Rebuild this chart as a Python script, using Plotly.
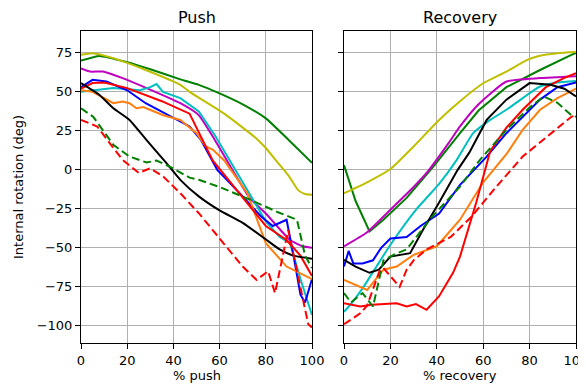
import plotly.graph_objects as go

# ---------------- Push panel data ----------------
push_green_x = [0, 8, 20, 30, 43, 51, 60, 70, 80, 90, 100]
push_green_y = [70, 73, 69, 64.5, 58, 54.5, 49, 42, 33, 19, 4.5]

push_yellow_x = [0, 5, 14, 28, 43, 47, 62, 76, 80, 85, 90, 94, 97, 100]
push_yellow_y = [73.7, 74.8, 71.6, 64, 54.5, 50, 36, 20, 14, 5, -4, -13, -15.5, -16]

push_magenta_x = [0, 4, 9.5, 18, 28.4, 43, 51, 58, 73, 80, 90.5, 96, 100]
push_magenta_y = [65, 63, 63, 58.8, 52.4, 42.7, 35, 19, -18, -28, -45, -49, -50]

push_cyan_x = [0, 14, 25.5, 30, 32.7, 35.5, 43, 51, 58, 70, 80, 86, 90.5, 95, 100]
push_cyan_y = [50, 52.4, 51, 53, 55, 50, 46, 37.4, 22, -8, -33, -43, -47, -70, -93]

push_blue_x = [0, 5, 11, 20, 28, 40, 47, 52, 59, 70, 78, 83, 89, 92, 95, 97, 100]
push_blue_y = [53, 57.7, 56.6, 51, 42.7, 33, 27.8, 19, 0, -17, -30, -36, -32, -55, -80, -85, -70]

push_orange_x = [0, 5, 14, 18, 21, 24, 27, 35.6, 43, 50, 54, 57, 62, 72, 80, 89, 100]
push_orange_y = [51, 50, 42.7, 43.8, 42.7, 39.5, 40.3, 35, 32, 23.5, 15, 13, 6, -15, -47, -62, -70]

push_red_x = [0, 5, 10, 20, 35, 47, 57, 72, 80, 89, 95, 100]
push_red_y = [52, 55.6, 56, 52.4, 44, 36, 6, -21, -36, -45, -55, -68]

push_black_x = [0, 8, 14, 21, 28.4, 37, 43, 51, 60, 70, 80, 86, 92, 100]
push_black_y = [55.6, 48, 39.5, 32, 19, 4.3, -6.4, -17, -26, -34, -44.6, -51, -55, -57]

push_gdash_x = [0, 5.3, 14, 21, 28.4, 32.7, 38.5, 43, 47, 51, 60, 73, 85, 93.5, 97, 100]
push_gdash_y = [39.5, 34, 16, 8.5, 4.7, 6, 2, -2, -5, -6.4, -11, -19, -27, -32, -55, -63]

push_rdash_x = [0, 7, 12.5, 18, 25, 30, 35.6, 43, 51, 61.6, 70, 76, 81, 84, 89.7, 98.4, 100]
push_rdash_y = [32, 27.8, 17, 6.4, -2, 1, -4.3, -15, -27.8, -47, -62, -70.5, -65, -79, -38.5, -99, -101]

# ---------------- Recovery panel data ----------------
rec_green_x = [0, 5, 11, 17, 27, 38.5, 50, 58, 70, 84.5, 98, 100]
rec_green_y = [3, -20, -39.5, -32, -18, 2, 23.5, 38, 53, 64, 73.7, 75]

rec_yellow_x = [0, 10, 20, 30, 41, 50, 60, 70, 79, 84, 92, 100]
rec_yellow_y = [-15, -8, 0.5, 15, 32, 44, 55.5, 63, 70.5, 73, 74.8, 75.5]

rec_magenta_x = [0, 10, 20, 30, 35.6, 45, 50, 58, 70, 84.5, 100]
rec_magenta_y = [-49, -40, -25.6, -11, -2, 17, 27.8, 42, 56.6, 58.8, 60]

rec_cyan_x = [0, 3, 8, 14, 20, 31, 41, 48.6, 55.7, 63, 70, 77, 84.5, 92, 100]
rec_cyan_y = [-91, -86, -76, -62, -48, -25.6, -9, 6.4, 23.5, 32, 38.5, 46, 53.4, 56, 57]

rec_blue_x = [0, 2, 4, 8, 12.5, 16, 20, 27, 33, 41, 50, 61.5, 70, 84.5, 92, 100]
rec_blue_y = [-62, -52, -60, -60, -58, -50, -44, -43, -36, -28, -9.6, 8.5, 23.5, 45, 53, 56]

rec_orange_x = [0, 10, 17, 22.7, 30, 40, 50, 60, 70, 77, 84.5, 92, 100]
rec_orange_y = [-70.5, -77, -64, -62, -54.5, -49, -32, -8, 10, 25.6, 38.5, 46, 52]

rec_red_x = [0, 7, 12, 17, 22.7, 27, 31, 35.6, 41, 47, 50, 57, 63, 70, 77, 87, 95, 100]
rec_red_y = [-85.5, -87.6, -86.5, -86, -85.5, -87.6, -86, -89.7, -81, -66, -55.6, -21, 12, 27, 38.5, 53, 59, 62]

rec_black_x = [0, 5, 11, 15, 20, 28.5, 34, 41, 49, 54, 61.5, 70, 80, 89, 95, 100]
rec_black_y = [-57.7, -62, -66, -64, -55.6, -53.4, -38.5, -21, 0, 11, 32, 45, 55.6, 54.5, 52, 47]

rec_gdash_x = [0, 3, 8, 12.5, 17, 22, 27, 38, 50, 58.6, 70, 80, 86, 92, 98, 100]
rec_gdash_y = [-79, -85, -79, -87.6, -58, -54, -51, -30, -10.7, 6.4, 25.6, 40, 47, 43, 35, 34]

rec_rdash_x = [0, 7, 10, 13, 15.5, 17, 21, 24, 27, 30, 35.6, 46, 55, 65, 77, 88, 98, 100]
rec_rdash_y = [-99, -92, -87, -75, -64, -63, -70, -75, -64, -58, -51, -43, -30, -12, 8.5, 22, 34, 35]

x_ticks = [0, 20, 40, 60, 80, 100]
y_ticks = [-100, -75, -50, -25, 0, 25, 50, 75]

C_G = "#008000"
C_Y = "#bfbf00"
C_M = "#bf00bf"
C_C = "#00bfbf"
C_B = "#0000ff"
C_O = "#ff7f0e"
C_R = "#ff0000"
C_K = "#000000"
DASH = "8px,4px"

push_series = [
    (push_green_x, push_green_y, C_G, "solid", "spline"),
    (push_yellow_x, push_yellow_y, C_Y, "solid", "spline"),
    (push_magenta_x, push_magenta_y, C_M, "solid", "spline"),
    (push_cyan_x, push_cyan_y, C_C, "solid", "linear"),
    (push_blue_x, push_blue_y, C_B, "solid", "linear"),
    (push_orange_x, push_orange_y, C_O, "solid", "linear"),
    (push_red_x, push_red_y, C_R, "solid", "linear"),
    (push_black_x, push_black_y, C_K, "solid", "spline"),
    (push_gdash_x, push_gdash_y, C_G, DASH, "linear"),
    (push_rdash_x, push_rdash_y, C_R, DASH, "linear"),
]
rec_series = [
    (rec_green_x, rec_green_y, C_G, "solid", "linear"),
    (rec_yellow_x, rec_yellow_y, C_Y, "solid", "spline"),
    (rec_magenta_x, rec_magenta_y, C_M, "solid", "spline"),
    (rec_cyan_x, rec_cyan_y, C_C, "solid", "spline"),
    (rec_blue_x, rec_blue_y, C_B, "solid", "linear"),
    (rec_orange_x, rec_orange_y, C_O, "solid", "linear"),
    (rec_red_x, rec_red_y, C_R, "solid", "linear"),
    (rec_black_x, rec_black_y, C_K, "solid", "linear"),
    (rec_gdash_x, rec_gdash_y, C_G, DASH, "linear"),
    (rec_rdash_x, rec_rdash_y, C_R, DASH, "linear"),
]

fig = go.Figure()
for xs, ys, col, dash, shp in push_series:
    fig.add_trace(go.Scatter(x=xs, y=ys, mode="lines", xaxis="x", yaxis="y",
                             line=dict(color=col, width=2, dash=dash, shape=shp, smoothing=0.5),
                             showlegend=False, hoverinfo="skip"))
for xs, ys, col, dash, shp in rec_series:
    fig.add_trace(go.Scatter(x=xs, y=ys, mode="lines", xaxis="x2", yaxis="y2",
                             line=dict(color=col, width=2, dash=dash, shape=shp, smoothing=0.5),
                             showlegend=False, hoverinfo="skip"))

# page body has an 8px margin; figure occupies 8..586 x 8..386
OFF = 8
W, H = 586 - OFF, 386 - OFF
FONT = "DejaVu Sans"
ax_common = dict(showline=True, linecolor="black", linewidth=1, mirror=True,
                 ticks="outside", ticklen=5, tickwidth=1, tickcolor="black",
                 showgrid=True, gridcolor="#b0b0b0", gridwidth=1,
                 zeroline=False, automargin=False, ticklabeloverflow="allow",
                 tickfont=dict(family=FONT, size=13, color="black"))


def px(v):
    return (v - OFF) / W


def py(v):
    return 1 - (v - OFF) / H


ydom = [py(343), py(31)]
fig.update_layout(
    width=W, height=H,
    margin=dict(l=0, r=0, t=0, b=0, pad=0),
    paper_bgcolor="white", plot_bgcolor="white",
    xaxis=dict(domain=[px(81), px(312)], range=[0, 100], tickvals=x_ticks, anchor="y", **ax_common),
    xaxis2=dict(domain=[px(344), px(576)], range=[0, 100], tickvals=x_ticks, anchor="y2", **ax_common),
    yaxis=dict(domain=ydom, range=[-111, 89], tickvals=y_ticks, anchor="x", **ax_common),
    yaxis2=dict(domain=ydom, range=[-111, 89], tickvals=y_ticks, anchor="x2",
                showticklabels=False, **ax_common),
    annotations=[
        dict(text="Push", x=px(196.5), y=py(17), xref="paper", yref="paper",
             showarrow=False, font=dict(family=FONT, size=16, color="black"),
             xanchor="center", yanchor="middle"),
        dict(text="Recovery", x=px(460), y=py(17), xref="paper", yref="paper",
             showarrow=False, font=dict(family=FONT, size=16, color="black"),
             xanchor="center", yanchor="middle"),
        dict(text="% push", x=px(196.5), y=py(375), xref="paper", yref="paper",
             showarrow=False, font=dict(family=FONT, size=13, color="black"),
             xanchor="center", yanchor="middle"),
        dict(text="% recovery", x=px(460), y=py(375), xref="paper", yref="paper",
             showarrow=False, font=dict(family=FONT, size=13, color="black"),
             xanchor="center", yanchor="middle"),
        dict(text="Internal rotation (deg)", x=px(19), y=py(187), xref="paper", yref="paper",
             showarrow=False, textangle=-90, font=dict(family=FONT, size=13, color="black"),
             xanchor="center", yanchor="middle"),
    ],
)

fig.write_html("out.html")
